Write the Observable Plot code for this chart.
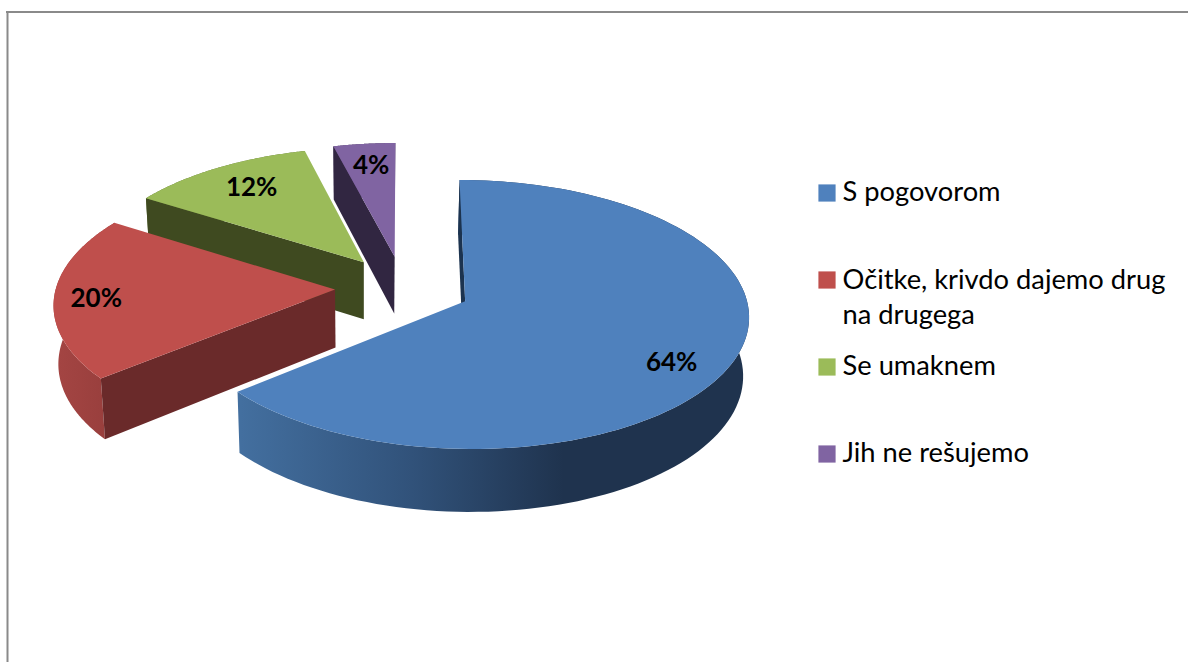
<!DOCTYPE html>
<html>
<head>
<meta charset="utf-8">
<style>html,body{margin:0;padding:0;background:#fff;}svg{display:block;}</style>
<script src="https://cdn.jsdelivr.net/npm/d3@7"></script>
<script src="https://cdn.jsdelivr.net/npm/@observablehq/plot@0.6"></script>
</head>
<body>
<script>
const categories = ["S pogovorom", "Očitke, krivdo dajemo drug\nna drugega", "Se umaknem", "Jih ne rešujemo"];
const values = [64, 20, 12, 4];
const topColors = ["#4F81BD", "#BF4F4C", "#9BBB59", "#8064A2"];
const faceColors = ["#1C334F", "#6A2A2A", "#3F4A20", "#312641"];
const rimColors = ["url(#blueRim)", "url(#redRim)", "#5E7135", "#4D3C62"];
const labelRadius = [0.82, 0.85, 0.77, 0.79];
const labelFrac = [0.532, 0.484, 0.52, 0.52];
const legendY = [192.5, 279.5, 366.5, 453.5];

// projection of the tilted disc
const cx = 402.5, cy = 287, A = 279, B = 130.5, k = 0.098, explode = 0.2437;
const project = (X, Y) => { const w = 1 + k * Y; return [cx + A * X / w, cy - B * Y / w]; };
const drop = ([x, y]) => [x - 0.0155 * (x - 365), y + 49 + 0.031 * y];

const total = d3.sum(values);
let running = 0;
const slices = values.map((v, i) => {
  const a0 = running / total * 2 * Math.PI;
  running += v;
  const a1 = running / total * 2 * Math.PI;
  const mid = (a0 + a1) / 2;
  const ox = explode * Math.sin(mid), oy = explode * Math.cos(mid);
  const rim = d3.range(0, 121).map(t => {
    const a = a0 + (a1 - a0) * t / 120;
    return project(ox + Math.sin(a), oy + Math.cos(a));
  });
  const apex = project(ox, oy);
  const la = a0 + (a1 - a0) * labelFrac[i];
  const label = project(ox + labelRadius[i] * Math.sin(la), oy + labelRadius[i] * Math.cos(la));
  return {i, v, rim, apex, label};
});

const poly = (pts, fill) => Plot.line(pts, {x: d => d[0], y: d => d[1], fill, stroke: "none", curve: "linear"});

const defs = () => {
  const s = d3.create("svg:defs");
  const grad = (id, x1, x2, stops) => {
    const g = s.append("linearGradient").attr("id", id).attr("gradientUnits", "userSpaceOnUse")
      .attr("x1", x1).attr("x2", x2).attr("y1", 0).attr("y2", 0);
    stops.forEach(([o, c]) => g.append("stop").attr("offset", o).attr("stop-color", c));
  };
  grad("blueRim", 240, 620, [[0, "#436F9F"], [0.45, "#31527A"], [0.85, "#1F334E"], [1, "#1F334E"]]);
  grad("redRim", 55, 105, [[0, "#A44543"], [1, "#993F3D"]]);
  return s.node();
};

const marks = [defs];
// painter's order: far slices first
[3, 2, 1, 0].forEach(i => {
  const s = slices[i];
  const bottomRim = s.rim.map(drop);
  marks.push(poly([...s.rim, ...bottomRim.slice().reverse()], rimColors[i]));
  marks.push(poly([s.apex, s.rim[0], bottomRim[0], drop(s.apex)], faceColors[i]));
  marks.push(poly([s.apex, ...s.rim], topColors[i]));
});
marks.push(
  Plot.text(slices, {x: d => d.label[0], y: d => d.label[1], text: d => `${d.v}%`,
    fontFamily: "Lato", fontWeight: 700, fontSize: 26, fill: "#000"}),
  Plot.dot(categories.map((c, i) => i), {x: () => 826.5, y: i => legendY[i], r: 9.7, symbol: "square",
    fill: i => topColors[i], stroke: "none"}),
  Plot.text(categories.map((c, i) => i), {x: () => 842, y: i => legendY[i] - 3 + (i === 1 ? 18 : 0), text: i => categories[i],
    textAnchor: "start", lineHeight: 1.3, fontFamily: "Lato", fontSize: 27.3, fill: "#000"}),
  Plot.ruleY([11.5], {x1: 6, x2: 1188, stroke: "#8A8A8A", strokeWidth: 2}),
  Plot.ruleX([7], {y1: 11, y2: 662, stroke: "#8A8A8A", strokeWidth: 2})
);

const chart = Plot.plot({
  width: 1188, height: 662, margin: 0,
  x: {domain: [0, 1188], range: [0, 1188], axis: null},
  y: {domain: [0, 662], range: [0, 662], axis: null},
  style: {background: "#fff"},
  marks
});
document.body.appendChild(chart);
</script>
</body>
</html>
